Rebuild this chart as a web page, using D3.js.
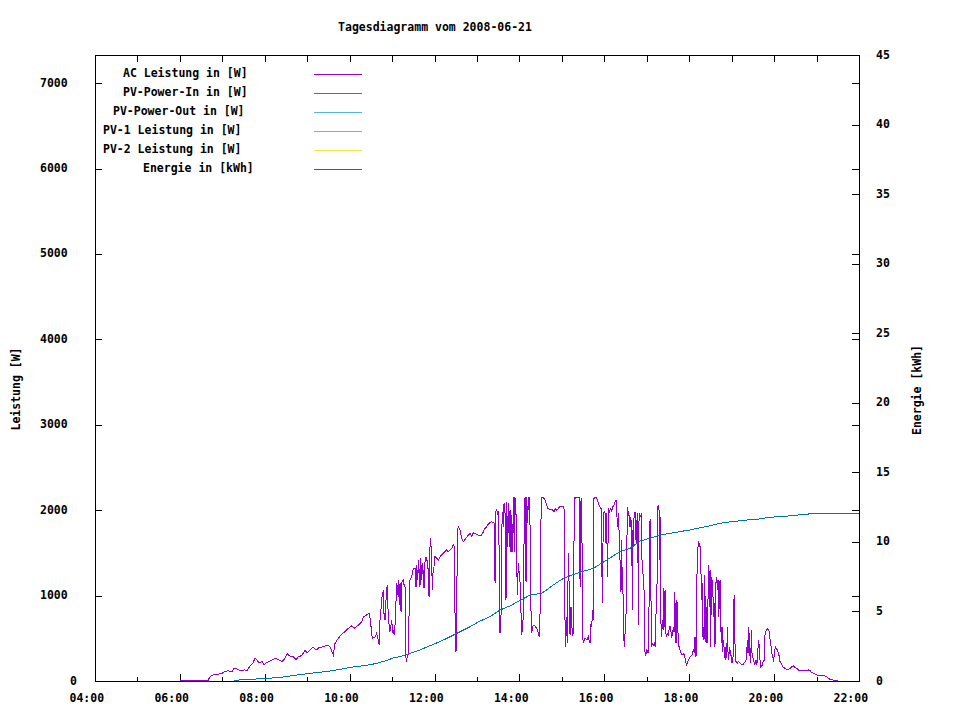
<!DOCTYPE html>
<html><head><meta charset="utf-8">
<script src="https://cdn.jsdelivr.net/npm/d3@7"></script>
<style>
body{margin:0;background:#fff}
svg{display:block}
text{font-family:"DejaVu Sans Mono",monospace;font-weight:bold;font-size:11.5px;fill:#000}
</style>
</head><body>
<svg id="chart" width="960" height="720"></svg>
<script>
// ---------- data ----------
const title = "Tagesdiagramm vom 2008-06-21";
const yLabelLeft = "Leistung [W]";
const yLabelRight = "Energie [kWh]";
const xTickHours = [4,5,6,7,8,9,10,11,12,13,14,15,16,17,18,19,20,21,22];
const leftTicks = [0,1000,2000,3000,4000,5000,6000,7000];
const rightTicks = [0,5,10,15,20,25,30,35,40,45];
const leftMax = 7330;
const rightMax = 45;
const seriesNames = ["AC Leistung in [W]","PV-Power-In in [W]","PV-Power-Out in [W]","PV-1 Leistung in [W]","PV-2 Leistung in [W]","Energie in [kWh]"];
const seriesColors = ["#9400d3","#009e73","#56b4e9","#e69f00","#f0e442","#0072b2"];

// AC Leistung: [minutes since midnight, W]
const acLeistung = [
[360,10],[400,10],[402.6,50],[406.8,70],[413.9,80],[419.5,90],[423.8,110],[428,120],[433.7,110],[436.5,150],[440.7,140],[445,120],[452.1,130],[454.9,120],[457.7,160],[463.4,210],[466.2,270],[469,250],[471.8,210],[476.1,230],[478.9,190],[481.7,210],[486,230],[491.6,250],[494.5,270],[498.7,250],[504.4,230],[507.2,250],[511.4,320],[515.7,290],[519.9,290],[524.2,250],[527,280],[532.6,300],[536.9,360],[539.7,330],[543.9,360],[548.2,400],[552.4,360],[556.7,390],[562.3,400],[567.9,420],
[572.2,402],[576.9,304],[579.3,441],[584,500],[588.7,550],[593.4,578],[598.1,617],[602.8,644],[607.5,617],[612.3,656],[617,695],[619.3,753],[624,773],[627.8,792],[629.7,675],[632,500],[635.8,510],[638.2,558],[640.5,480],[641.9,422],[642.9,714],[643.8,773],[645.2,968],[646.7,1007],[647.6,1065],[648.5,792],[650,714],[651.4,948],[652.3,1065],[653.3,1124],[654.7,695],[656.1,656],[657,578],[659.4,714],[660.8,558],[661.7,597],[663.1,539],[664.6,714],[666.4,1143],[667.4,1007],[668.8,1182],[670.2,890],[671.2,1143],[672.6,812],[674,1163],[675.9,1182],[677.3,1104],[678.2,1124],[679.2,304],[680.1,226],[681.5,285],[683,324],[684.4,1007],[685.3,1182],[687.7,1221],[690,1319],[692.4,1319],[693.8,1104],[694.7,1358],[696.1,1182],[697.6,1417],[698.5,1182],[699.4,1104],[700.4,1436],[701.8,1182],[703.2,1378],[705.1,1085],[706.5,1397],[707.9,1456],[709.8,1397],[711.2,1280],[712.2,987],[713.6,1573],[714.5,1670],[715.9,1417],[716.9,1065],[717.8,1260],[719.2,1338],[720.6,1456],[723,1436],[725.4,1417],[727.7,1456],[730.1,1475],[732.4,1495],[734.8,1514],[737.1,1534],[739.5,1514],[741.8,1534],[744.2,1553],[746.5,1592],[748,1573],[749.4,402],[750.3,343],[751.3,675],[752.2,1768],[753.6,1807],[756,1768],[758.3,1670],[760.7,1631],[763,1658],[765.4,1682],[767.8,1709],[770.1,1729],[772.5,1690],[774.8,1736],[777.2,1729],[779.5,1717],[781.9,1709],[784.2,1701],[786.6,1709],[789,1748],[791.3,1787],[793.7,1807],[796,1838],[798.4,1854],[800.7,1865],[803.1,1854],[804.5,1846],[805.5,1143],[806.4,1982],[807.8,2002],[809.2,1963],[810.6,1982],[812.5,558],[813.9,714],[814.9,1768],[816.3,1982],[817.2,1807],[818.2,2080],[819.6,1963],[821,948],[822,2099],[823.4,1573],[824.3,2080],[825.7,1573],[826.7,2002],[828.1,1514],[829,1943],[830.4,1514],[831.4,2150],[832.8,1514],[833.7,2150],[835.2,1943],[836.1,1456],[837,1007],[838.4,1378],[840.8,1163],[841.7,948],[843.1,539],[844.6,636],[845.5,792],[846.9,1963],[847.9,2150],[849.3,1163],[850.2,2150],[851.6,1846],[852.6,2150],[854,2150],[854.9,1846],[856.4,792],[857.3,558],[858.7,636],[860.6,656],[862.5,636],[864.4,617],[866.7,558],[868.1,519],[869.1,792],[870,1768],[871.4,2150],[872.8,2150],[874.7,2138],[876.1,2119],[878.5,2060],[879.9,2021],[882.3,2010],[884.2,2010],[887,2002],[888.9,1982],[890.8,2021],[892.6,1994],[895,2021],[897.3,2041],[899.7,2048],[901.1,2041],[902,2041],[903.5,2002],[904.4,714],[905.3,402],[906.8,753],[907.7,441],[909.1,1495],[910.5,1026],[911.5,539],[912.9,870],[914.8,539],[916.2,558],[917.6,2150],[918.5,2138],[920.9,2150],[923.3,2150],[924.7,2150],
[925.7,1104],[927.1,2138],[928,2119],[929.4,519],[930.4,441],[932.7,500],[935.1,480],[937.4,519],[938.8,461],[939.8,441],[941.2,675],[942.1,636],[943.6,831],[944.5,714],[945.4,2138],[946.9,2150],[948.3,2150],[950.2,2119],[952.5,2060],[953.9,2041],[955.3,2021],[956.3,1495],[957.2,909],[958.6,1963],[959.6,1982],[961.5,1963],[962.4,1612],[963.3,1963],[964.3,1221],[965.2,1612],[966.2,2021],[967.1,1982],[969,2021],[970.4,1982],[971.8,2041],[972.8,2041],[974.2,2080],[975.6,2099],[976.5,2119],[977.5,1963],[978.9,1807],[980.3,1963],[981.3,1534],[982.2,1417],[983.1,1046],[984.1,1651],[984.6,1065],[985.5,1338],[986,1182],[986.9,831],[987.9,441],[988.8,402],[989.7,714],[990.7,792],[991.6,1417],[992.6,2041],[994,1963],[995.4,1924],[996.3,1807],[997.3,1924],[998.7,1807],[999.6,831],[1000.1,1768],[1001,1573],[1002,1924],[1003.4,1982],[1004.3,1651],[1005.3,1885],[1006.2,1612],[1007.2,1963],[1008.1,656],[1009.1,1963],[1010.5,1924],[1011.9,1943],[1012.8,1456],[1013.8,1378],[1015.2,1182],[1016.1,1065],[1017.1,363],[1018,304],[1019,324],[1019.9,363],[1021.3,343],[1022.3,324],[1023.7,1202],[1024.6,1893],[1025.6,1338],[1026.5,402],[1027.9,441],[1029.3,422],[1030.7,441],[1032.1,402],[1033.6,1007],[1034.5,1143],[1035.4,2041],[1036.4,2048],[1037.3,2002],[1038.3,1417],[1039.2,1924],[1040.2,558],[1041.1,519],[1042,714],[1043,597],[1043.9,1085],[1044.9,636],[1045.8,1065],[1046.8,558],[1048.2,519],[1049.1,558],[1050.5,539],[1052,636],[1052.9,636],[1053.8,597],[1055.2,519],[1056.2,539],[1057.6,636],[1058.5,578],[1059.5,1046],[1060.4,441],[1061.4,948],[1062.3,441],[1063.3,929],[1064.2,539],[1065.6,402],[1067,363],[1068.4,324],[1069.8,304],[1071.7,324],[1073.1,304],[1074.6,246],[1076,187],[1077.4,215],[1078.8,246],[1080.2,266],[1082.1,293],[1084,304],[1085.9,371],[1087.3,324],[1088.2,519],[1089.6,285],[1090.6,1065],[1091.5,1456],[1092.9,1631],[1094.3,1612],[1095.3,1573],[1096.2,1534],[1097.2,948],[1098.1,1143],[1099.1,519],[1100,636],[1100.9,480],[1101.9,1241],[1102.8,714],[1103.8,441],[1104.7,870],[1105.6,441],[1106.6,987],[1107.5,1358],[1108.5,870],[1109.4,1299],[1110.4,402],[1111.3,1221],[1112.3,1026],[1113.2,1182],[1114.1,753],[1115.1,909],[1116,402],[1117,480],[1117.9,1182],[1118.8,1221],[1119.8,1065],[1120.7,1182],[1121.7,753],[1122.6,948],[1123.6,1182],[1124.5,714],[1125.4,441],[1126.4,636],[1127.3,343],[1128.3,480],[1129.2,402],[1130.2,285],[1131.1,246],[1132,402],[1133,266],[1133.9,636],[1134.9,324],[1135.8,246],[1136.8,402],[1137.7,324],[1138.6,363],[1139.6,226],[1140.5,207],[1141.5,246],[1142.4,324],[1143.4,1007],[1144.3,597],[1145.2,246],[1146.2,226],[1147.1,226],[1148.1,207],[1149.5,226],[1150.9,215],[1152.8,207],[1154.7,187],[1156.5,199],[1158.9,226],[1160.3,246],[1161.3,343],[1162.2,480],[1163.1,324],[1164.1,636],[1165,480],[1166,285],[1166.9,207],[1167.9,597],[1168.8,324],[1169.7,285],[1170.7,246],[1171.6,226],[1172.6,199],[1173.5,215],[1174.5,246],[1175.4,187],[1176.3,246],[1177.8,480],[1179.2,402],[1180.1,246],[1181,160],[1182.5,168],[1183.9,215],[1184.8,226],[1186.2,246],[1187.2,558],[1188.1,578],[1189.5,597],[1191,617],[1192.4,597],[1193.3,578],[1194.3,480],[1195.2,441],[1196.6,324],[1198,304],[1199,226],[1200.4,324],[1201.8,402],[1203.2,383],[1204.6,363],[1206,324],[1207.4,285],[1208.4,226],[1209.8,207],[1211.2,187],[1213.1,160],[1215.5,148],[1217.8,137],[1220.2,137],[1222.5,148],[1224.9,168],[1227.2,176],[1229.6,160],[1232,148],[1234.3,129],[1236.7,121],[1239,129],[1241.4,121],[1243.7,129],[1246.1,121],[1248.4,129],[1250.8,121],[1253.1,98],[1255.5,90],[1257.9,82],[1260.2,70],[1262.6,66],[1264.9,66],[1267.3,63],[1269.6,59],[1272,59],[1274.3,51],[1276.7,31],[1279,20],[1281.4,12],[1290.4,10]
];

// Energie: [minutes since midnight, kWh]
const energie = [
[436.5,0.05],[470.4,0.15],[501.5,0.25],[518.5,0.38],[539.7,0.52],[569.4,0.70],[586.4,0.84],[600.5,0.98],[624.5,1.13],[638.7,1.27],[652.8,1.49],[661.3,1.65],[671.2,1.75],[685.3,1.99],[699.4,2.23],[713.6,2.54],[727.7,2.83],[741.9,3.18],[756,3.54],[770.1,3.90],[784.3,4.31],[798.4,4.62],[812.5,5.10],[826.7,5.40],[855,6.18],[871.5,6.30],[887.9,6.90],[902.1,7.38],[921,7.74],[944.5,8.10],[963.4,8.70],[982.2,9.30],[996.4,9.54],[1010.5,10.06],[1024.6,10.26],[1038.8,10.50],[1052.9,10.62],[1067,10.74],[1081.2,10.86],[1095.3,11.02],[1109.4,11.16],[1123.6,11.34],[1140,11.45],[1161.3,11.57],[1177.7,11.64],[1194.3,11.77],[1215.5,11.84],[1257.9,12.05],[1320,12.05]
];

// ---------- chart ----------
const svg = d3.select("#chart");
const L = 95, R = 859, T = 55, B = 681;
const toDate = m => new Date(2008, 5, 21, 0, 0, 0, Math.round(m * 60000));
const x = d3.scaleTime().domain([new Date(2008,5,21,4), new Date(2008,5,21,22)]).range([L, R]);
const yL = d3.scaleLinear().domain([0, leftMax]).range([B, T]);
const yR = d3.scaleLinear().domain([0, rightMax]).range([B, T]);
const fmt = d3.timeFormat("%H:%M");
const hours = xTickHours.map(h => new Date(2008,5,21,h));

svg.append("rect").attr("width",960).attr("height",720).attr("fill","#fff");

// title
svg.append("text").attr("x", 435).attr("y", 31).attr("text-anchor","middle").text(title);

// bottom axis (ticks inward)
const gB = svg.append("g").attr("transform",`translate(0,${B})`)
  .call(d3.axisBottom(x).tickValues(hours).tickSizeOuter(0).tickSizeInner(-4)
        .tickFormat(d => d.getHours() % 2 === 0 ? fmt(d) : ""));
gB.select(".domain").remove();
gB.selectAll(".tick line").attr("y2", d => d.getHours() % 2 === 0 ? -7 : -4).attr("stroke","#000").attr("shape-rendering","crispEdges");
gB.selectAll(".tick text").attr("text-anchor","start").attr("x", -26).attr("y", 21).attr("dy", null)
  .style("font-family",'"DejaVu Sans Mono",monospace').style("font-weight","bold").style("font-size","11.5px");

// top mirror ticks
const gT = svg.append("g").attr("transform",`translate(0,${T})`)
  .call(d3.axisTop(x).tickValues(hours).tickSizeOuter(0).tickSizeInner(-7).tickFormat(""));
gT.select(".domain").remove();
gT.selectAll(".tick line").attr("stroke","#000").attr("shape-rendering","crispEdges");

// left axis
const gL = svg.append("g").attr("transform",`translate(${L},0)`)
  .call(d3.axisLeft(yL).tickValues(leftTicks).tickSizeOuter(0).tickSizeInner(-7).tickFormat(d3.format("d")));
gL.select(".domain").remove();
gL.selectAll(".tick line").attr("stroke","#000").attr("shape-rendering","crispEdges");
gL.selectAll(".tick text").attr("text-anchor","start")
  .attr("x", function(d){ return (80 - L) - 10 * String(d).length; })
  .attr("y", 3).attr("dy", null)
  .style("font-family",'"DejaVu Sans Mono",monospace').style("font-weight","bold").style("font-size","11.5px");

// left ticks mirrored on right border
const gLm = svg.append("g").attr("transform",`translate(${R},0)`)
  .call(d3.axisRight(yL).tickValues(leftTicks.filter(v => v > 0)).tickSizeOuter(0).tickSizeInner(-7).tickFormat(""));
gLm.select(".domain").remove();
gLm.selectAll(".tick line").attr("stroke","#000").attr("shape-rendering","crispEdges");

// right axis (energy)
const gR = svg.append("g").attr("transform",`translate(${R},0)`)
  .call(d3.axisRight(yR).tickValues(rightTicks).tickSizeOuter(0).tickSizeInner(-7).tickFormat(d3.format("d")));
gR.select(".domain").remove();
gR.selectAll(".tick line").attr("stroke","#000").attr("shape-rendering","crispEdges");
gR.selectAll(".tick text").attr("text-anchor","start").attr("x", 17).attr("y", 3).attr("dy", null)
  .style("font-family",'"DejaVu Sans Mono",monospace').style("font-weight","bold").style("font-size","11.5px");

// axis labels
svg.append("text").attr("transform","translate(20,389) rotate(-90)").attr("text-anchor","middle").text(yLabelLeft);
svg.append("text").attr("transform","translate(921,390) rotate(-90)").attr("text-anchor","middle").text(yLabelRight);

// data lines
const clip = svg.append("clipPath").attr("id","plotclip").append("rect")
  .attr("x", L).attr("y", T).attr("width", R - L).attr("height", B - T);

const acLine = d3.line().x(d => x(toDate(d[0]))).y(d => yL(d[1]));
const enLine = d3.line().x(d => x(toDate(d[0]))).y(d => yR(d[1]));

svg.append("path").datum(acLeistung).attr("d", acLine)
  .attr("fill","none").attr("stroke", seriesColors[0]).attr("stroke-width",1)
  .attr("shape-rendering","crispEdges")
  .attr("clip-path","url(#plotclip)");
svg.append("path").datum(energie).attr("d", enLine)
  .attr("fill","none").attr("stroke", seriesColors[5]).attr("stroke-width",1)
  .attr("shape-rendering","crispEdges")
  .attr("clip-path","url(#plotclip)");

// border
svg.append("rect").attr("x", L + 0.5).attr("y", T + 0.5).attr("width", R - L).attr("height", B - T)
  .attr("fill","none").attr("stroke","#000").attr("stroke-width",1).attr("shape-rendering","crispEdges");

// legend
const legY0 = 74, legDy = 19;
const leg = svg.append("g");
seriesNames.forEach((name, i) => {
  const yy = legY0 + i * legDy;
  leg.append("text").attr("x", 303 - 10 * name.length).attr("y", yy + 2.5).text(name);
  leg.append("line").attr("x1", 314).attr("x2", 362).attr("y1", yy + 0.5).attr("y2", yy + 0.5)
    .attr("stroke", seriesColors[i]).attr("stroke-width", 1).attr("shape-rendering","crispEdges");
});
</script>
</body></html>
